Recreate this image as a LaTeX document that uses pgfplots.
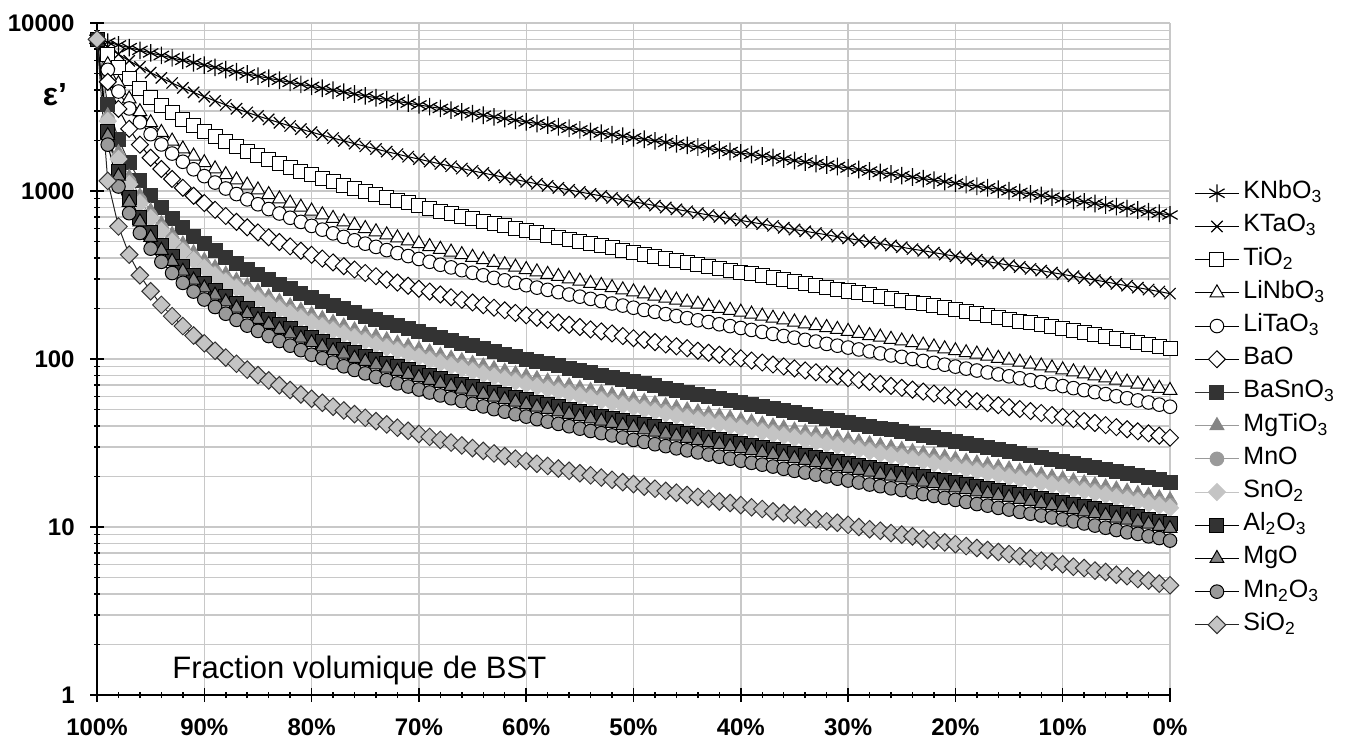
\documentclass[border=0pt]{standalone}
\usepackage{pgfplots}
\usepackage{pgfplotstable}
\pgfplotsset{compat=1.18}
\usepackage{fontspec}
\setmainfont{Liberation Sans}
\definecolor{g80}{HTML}{333333}
\definecolor{g50}{HTML}{858585}
\definecolor{g40}{HTML}{9A9A9A}
\definecolor{g25}{HTML}{C4C4C4}
\definecolor{gridc}{HTML}{C8C8C8}
\pgfplotstableread{
x KN KT TI LN LT BA BS MT MN SN AL MG MM SI
0 8000 8000 8000 8000 8000 8000 8000 8000 8000 8000 8000 8000 8000 8000
1 7692 7190 6469 5649 5265 4462 3259 2802 2674 2607 2247 2137 1888 1148
2 7404 6521 5418 4352 3910 3081 2036 1690 1597 1549 1300 1227 1064 615
3 7133 5959 4653 3531 3101 2345 1475 1205 1134 1097 911 857 738 418
4 6879 5480 4070 2964 2564 1888 1153 933 876 847 699 656 563 315
5 6639 5068 3611 2549 2180 1577 944 760 712 688 565 530 454 253
6 6412 4709 3241 2232 1894 1351 798 639 599 578 474 444 379 210
7 6198 4393 2936 1983 1671 1180 689 551 515 497 407 381 325 180
8 5995 4114 2680 1781 1493 1045 606 483 451 436 356 333 284 157
9 5803 3865 2462 1614 1347 937 539 429 401 387 316 295 252 138
10 5620 3641 2275 1474 1226 848 486 386 360 348 283 265 226 124
11 5447 3439 2112 1355 1123 773 441 350 327 315 257 240 204 112
12 5282 3256 1969 1252 1035 710 403 320 298 288 234 219 186 102
13 5124 3090 1842 1163 959 655 371 294 274 265 215 201 171 93.7
14 4974 2937 1730 1084 892 608 343 272 254 244 199 186 158 86.4
15 4830 2797 1629 1015 834 567 319 252 235 227 184 172 147 80.2
16 4693 2668 1537 952 781 530 298 235 220 212 172 161 137 74.6
17 4561 2549 1455 897 735 497 279 220 206 198 161 150 128 69.8
18 4436 2438 1379 847 693 468 262 207 193 186 151 141 120 65.4
19 4315 2336 1311 801 655 441 247 195 182 175 142 133 113 61.5
20 4199 2240 1247 760 620 417 233 184 171 165 134 125 106 58.0
21 4088 2150 1189 722 589 396 221 174 162 156 127 118 101 54.9
22 3981 2066 1135 687 560 376 209 165 154 148 120 112 95.3 52.0
23 3878 1988 1085 655 533 357 199 157 146 141 114 107 90.5 49.4
24 3779 1914 1039 625 509 341 189 149 139 134 109 101 86.1 47.0
25 3683 1844 996 598 486 325 180 142 133 128 104 96.7 82.1 44.7
26 3591 1778 956 572 465 311 172 136 127 122 98.8 92.3 78.3 42.7
27 3502 1716 918 548 445 297 165 130 121 117 94.4 88.2 74.9 40.8
28 3417 1657 882 526 427 285 158 124 116 112 90.4 84.4 71.6 39.0
29 3334 1601 849 505 410 273 151 119 111 107 86.6 80.9 68.6 37.4
30 3254 1548 818 486 394 262 145 114 106 103 83.0 77.6 65.8 35.8
31 3177 1498 788 467 379 252 139 110 102 98.5 79.7 74.5 63.2 34.4
32 3102 1450 760 450 364 242 134 105 98.2 94.6 76.6 71.6 60.7 33.0
33 3029 1404 733 433 351 233 129 101 94.5 91.0 73.7 68.8 58.4 31.8
34 2959 1361 708 418 338 225 124 97.6 91.0 87.6 70.9 66.3 56.2 30.6
35 2891 1319 685 403 326 217 120 94.0 87.6 84.4 68.3 63.8 54.1 29.5
36 2825 1279 662 390 315 209 115 90.7 84.5 81.4 65.9 61.5 52.2 28.4
37 2761 1241 640 376 304 202 111 87.5 81.5 78.5 63.6 59.4 50.3 27.4
38 2699 1205 620 364 294 195 107 84.5 78.7 75.8 61.4 57.3 48.6 26.4
39 2639 1170 600 352 284 188 104 81.6 76.0 73.2 59.3 55.4 46.9 25.5
40 2580 1136 581 341 275 182 100 78.9 73.5 70.8 57.3 53.5 45.4 24.7
41 2523 1104 564 330 266 176 97.0 76.3 71.1 68.5 55.4 51.7 43.9 23.8
42 2468 1073 546 319 258 171 93.9 73.8 68.8 66.2 53.6 50.1 42.4 23.1
43 2414 1043 530 310 250 165 90.9 71.4 66.6 64.1 51.9 48.4 41.1 22.3
44 2362 1015 514 300 242 160 88.0 69.2 64.5 62.1 50.2 46.9 39.8 21.6
45 2311 987 499 291 235 155 85.3 67.0 62.4 60.2 48.7 45.4 38.5 20.9
46 2261 960 485 282 228 150 82.7 65.0 60.5 58.3 47.2 44.0 37.3 20.3
47 2213 935 471 274 221 146 80.2 63.0 58.7 56.5 45.7 42.7 36.2 19.7
48 2166 910 458 266 214 142 77.8 61.1 56.9 54.8 44.3 41.4 35.1 19.1
49 2120 886 445 258 208 137 75.5 59.3 55.2 53.2 43.0 40.2 34.1 18.5
50 2076 863 432 251 202 133 73.2 57.5 53.6 51.6 41.8 39.0 33.0 18.0
51 2032 841 420 244 196 130 71.1 55.9 52.0 50.1 40.5 37.8 32.1 17.4
52 1990 819 409 237 191 126 69.1 54.2 50.5 48.7 39.4 36.7 31.1 16.9
53 1948 798 398 230 185 122 67.1 52.7 49.1 47.3 38.2 35.7 30.3 16.4
54 1908 778 387 224 180 119 65.2 51.2 47.7 45.9 37.1 34.7 29.4 16.0
55 1868 758 376 218 175 116 63.3 49.7 46.3 44.6 36.1 33.7 28.6 15.5
56 1829 739 366 212 170 112 61.6 48.4 45.0 43.4 35.1 32.7 27.8 15.1
57 1792 720 357 206 166 109 59.9 47.0 43.8 42.2 34.1 31.8 27.0 14.7
58 1755 702 347 200 161 106 58.2 45.7 42.6 41.0 33.2 31.0 26.2 14.2
59 1719 685 338 195 157 103 56.6 44.5 41.4 39.9 32.2 30.1 25.5 13.9
60 1684 668 329 190 153 101 55.1 43.2 40.3 38.8 31.4 29.3 24.8 13.5
61 1649 652 321 185 149 97.9 53.6 42.1 39.2 37.7 30.5 28.5 24.1 13.1
62 1615 636 313 180 145 95.3 52.1 40.9 38.1 36.7 29.7 27.7 23.5 12.8
63 1582 620 304 175 141 92.7 50.7 39.8 37.1 35.7 28.9 27.0 22.9 12.4
64 1550 605 297 171 137 90.3 49.4 38.8 36.1 34.8 28.1 26.2 22.2 12.1
65 1519 590 289 166 134 87.9 48.1 37.7 35.1 33.8 27.4 25.5 21.6 11.8
66 1488 576 282 162 130 85.5 46.8 36.7 34.2 32.9 26.6 24.9 21.1 11.4
67 1457 562 275 158 127 83.3 45.6 35.8 33.3 32.1 25.9 24.2 20.5 11.1
68 1428 549 268 154 123 81.1 44.4 34.8 32.4 31.2 25.2 23.6 20.0 10.8
69 1399 535 261 150 120 79.0 43.2 33.9 31.6 30.4 24.6 22.9 19.4 10.6
70 1370 522 254 146 117 76.9 42.1 33.0 30.7 29.6 23.9 22.3 18.9 10.3
71 1342 510 248 142 114 74.9 40.9 32.1 29.9 28.8 23.3 21.7 18.4 10.0
72 1315 498 241 138 111 73.0 39.9 31.3 29.1 28.1 22.7 21.2 17.9 9.7
73 1288 486 235 135 108 71.1 38.8 30.5 28.4 27.3 22.1 20.6 17.5 9.5
74 1262 474 229 131 105 69.2 37.8 29.7 27.6 26.6 21.5 20.1 17.0 9.2
75 1236 463 224 128 103 67.4 36.8 28.9 26.9 25.9 20.9 19.6 16.6 9.0
76 1211 451 218 125 100 65.7 35.9 28.1 26.2 25.2 20.4 19.0 16.1 8.8
77 1186 441 213 121 97.4 64.0 34.9 27.4 25.5 24.6 19.9 18.5 15.7 8.5
78 1161 430 207 118 94.9 62.3 34.0 26.7 24.8 23.9 19.3 18.1 15.3 8.3
79 1137 419 202 115 92.5 60.7 33.1 26.0 24.2 23.3 18.8 17.6 14.9 8.1
80 1114 409 197 112 90.1 59.1 32.3 25.3 23.6 22.7 18.3 17.1 14.5 7.9
81 1091 399 192 109 87.7 57.6 31.4 24.6 22.9 22.1 17.9 16.7 14.1 7.7
82 1068 390 187 107 85.4 56.0 30.6 24.0 22.3 21.5 17.4 16.2 13.7 7.5
83 1046 380 182 104 83.2 54.6 29.8 23.4 21.7 20.9 16.9 15.8 13.4 7.3
84 1024 371 177 101 81.0 53.1 29.0 22.7 21.2 20.4 16.5 15.4 13.0 7.1
85 1003 362 173 98.4 78.9 51.7 28.2 22.1 20.6 19.8 16.0 15.0 12.7 6.9
86 981 353 168 95.9 76.8 50.4 27.5 21.5 20.1 19.3 15.6 14.6 12.3 6.7
87 961 344 164 93.3 74.8 49.0 26.7 21.0 19.5 18.8 15.2 14.2 12.0 6.5
88 940 336 160 90.9 72.8 47.7 26.0 20.4 19.0 18.3 14.8 13.8 11.7 6.3
89 920 327 156 88.5 70.9 46.4 25.3 19.8 18.5 17.8 14.4 13.4 11.4 6.2
90 901 319 152 86.1 69.0 45.2 24.6 19.3 18.0 17.3 14.0 13.1 11.1 6.0
91 881 311 148 83.8 67.1 43.9 23.9 18.8 17.5 16.8 13.6 12.7 10.8 5.8
92 862 303 144 81.5 65.3 42.7 23.3 18.3 17.0 16.4 13.2 12.3 10.5 5.7
93 843 295 140 79.3 63.5 41.6 22.6 17.8 16.5 15.9 12.9 12.0 10.2 5.5
94 825 288 136 77.1 61.8 40.4 22.0 17.3 16.1 15.5 12.5 11.7 9.9 5.4
95 807 280 132 75.0 60.0 39.3 21.4 16.8 15.6 15.0 12.2 11.3 9.6 5.2
96 789 273 129 72.9 58.4 38.2 20.8 16.3 15.2 14.6 11.8 11.0 9.3 5.1
97 771 266 125 70.9 56.7 37.1 20.2 15.8 14.7 14.2 11.5 10.7 9.1 4.9
98 754 259 122 68.9 55.1 36.1 19.6 15.4 14.3 13.8 11.1 10.4 8.8 4.8
99 737 252 118 66.9 53.5 35.0 19.1 14.9 13.9 13.4 10.8 10.1 8.6 4.6
100 720 245 115 65.0 52.0 34.0 18.5 14.5 13.5 13.0 10.5 9.8 8.3 4.5
}\data
\begin{document}
\begin{tikzpicture}
\useasboundingbox (0,0) rectangle (679pt,370pt);
\begin{axis}[
  at={(48.5pt,22.5pt)}, anchor=south west,
  scale only axis, width=536.5pt, height=336pt,
  xmin=0, xmax=100, ymin=1, ymax=10000, ymode=log,
  xtick={0,10,...,100},
  xticklabels={100\%,90\%,80\%,70\%,60\%,50\%,40\%,30\%,20\%,10\%,0\%},
  minor x tick num=4,
  ytick={1,10,100,1000,10000},
  yticklabels={1,10,100,1000,10000},
  minor ytick={2,3,4,5,6,7,8,9,20,30,40,50,60,70,80,90,200,300,400,500,600,700,800,900,2000,3000,4000,5000,6000,7000,8000,9000},
  axis lines=left,
  axis line style={-, line width=0.75pt, black},
  xmajorgrids, ymajorgrids, yminorgrids,
  major grid style={gridc, line width=0.7pt},
  minor grid style={gridc, line width=0.7pt},
  tick style={black, line width=0.75pt},
  tick align=center,
  major tick length=7pt, minor tick length=3pt,
  ticklabel style={font=\fontsize{12}{12}\selectfont\bfseries},
  xticklabel style={anchor=center, yshift=-12.5pt},
  yticklabel style={anchor=east, inner sep=0pt, xshift=-7.5pt},
  clip=false,
  legend cell align=left,
  legend image code/.code={\draw[mark repeat=2,mark phase=2,#1] plot coordinates {(0pt,0pt) (11pt,0pt) (22pt,0pt)};},
  legend style={at={(1.0224,0.769)}, anchor=north west, draw=none, fill=none,
    inner sep=0pt, row sep=2pt,
    font=\fontsize{12.5}{12.5}\selectfont,
    nodes={inner sep=2pt, text height=8pt, text depth=2.6pt}},
]
\addplot[black, line width=0.5pt, mark=asterisk, mark size=4.4pt, mark options={line width=0.6pt}] table[x=x,y=KN]{\data};
\addlegendentry{KNbO\textsubscript{3}}
\addplot[black, line width=0.5pt, mark=x, mark size=4pt, mark options={line width=0.6pt}] table[x=x,y=KT]{\data};
\addlegendentry{KTaO\textsubscript{3}}
\addplot[black, line width=0.5pt, mark=square*, mark size=3.5pt, mark options={fill=white, line width=0.5pt}] table[x=x,y=TI]{\data};
\addlegendentry{TiO\textsubscript{2}}
\addplot[black, line width=0.5pt, mark=triangle*, mark size=4pt, mark options={fill=white, line width=0.5pt}] table[x=x,y=LN]{\data};
\addlegendentry{LiNbO\textsubscript{3}}
\addplot[black, line width=0.5pt, mark=*, mark size=3.4pt, mark options={fill=white, line width=0.5pt}] table[x=x,y=LT]{\data};
\addlegendentry{LiTaO\textsubscript{3}}
\addplot[black, line width=0.5pt, mark=square*, mark size=3pt, mark options={rotate=45, fill=white, line width=0.5pt}] table[x=x,y=BA]{\data};
\addlegendentry{BaO}
\addplot[g80, line width=0.5pt, mark=square*, mark size=3.5pt, mark options={fill=g80, draw=g80}] table[x=x,y=BS]{\data};
\addlegendentry{BaSnO\textsubscript{3}}
\addplot[g40, line width=0.5pt, mark=triangle*, mark size=4pt, mark options={fill=g50, draw=g50}] table[x=x,y=MT]{\data};
\addlegendentry{MgTiO\textsubscript{3}}
\addplot[g40, line width=0.5pt, mark=*, mark size=3.4pt, mark options={fill=g40, draw=g40}] table[x=x,y=MN]{\data};
\addlegendentry{MnO}
\addplot[g25, line width=0.5pt, mark=square*, mark size=3pt, mark options={rotate=45, fill=g25, draw=g25}] table[x=x,y=SN]{\data};
\addlegendentry{SnO\textsubscript{2}}
\addplot[black, line width=0.5pt, mark=square*, mark size=3.5pt, mark options={fill=g80, draw=black, line width=0.5pt}] table[x=x,y=AL]{\data};
\addlegendentry{Al\textsubscript{2}O\textsubscript{3}}
\addplot[black, line width=0.5pt, mark=triangle*, mark size=4pt, mark options={fill=g50, draw=black, line width=0.5pt}] table[x=x,y=MG]{\data};
\addlegendentry{MgO}
\addplot[black, line width=0.5pt, mark=*, mark size=3.4pt, mark options={fill=g40, draw=black, line width=0.5pt}] table[x=x,y=MM]{\data};
\addlegendentry{Mn\textsubscript{2}O\textsubscript{3}}
\addplot[black!85, line width=0.5pt, mark=square*, mark size=3.1pt, mark options={rotate=45, fill=g25, draw=black!80, line width=0.5pt}] table[x=x,y=SI]{\data};
\addlegendentry{SiO\textsubscript{2}}
\end{axis}
\node[font=\fontsize{16}{16}\selectfont\bfseries] at (27.5pt,322.5pt) {ε'};
\node[anchor=base west, inner sep=0pt, font=\fontsize{15.5}{15.5}\selectfont] at (86pt,31pt) {Fraction volumique de BST};
\end{tikzpicture}
\end{document}
